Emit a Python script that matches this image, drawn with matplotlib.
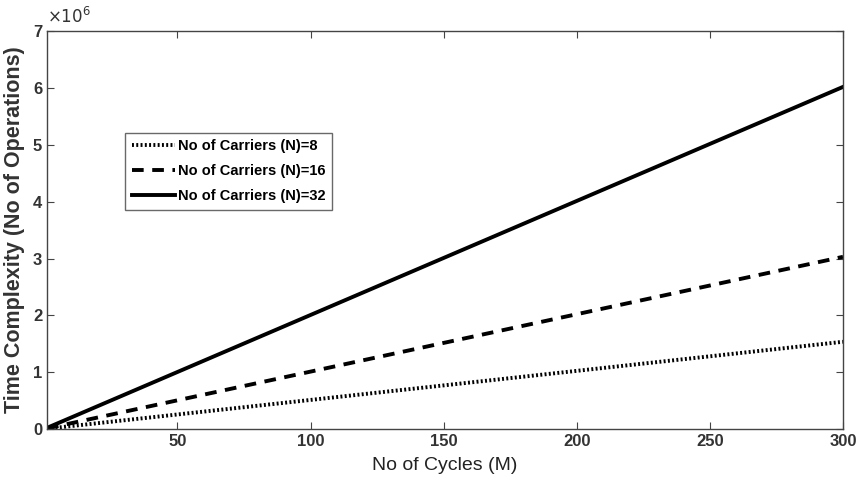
import matplotlib
matplotlib.use("Agg")
import matplotlib.pyplot as plt
from matplotlib import font_manager

names = {f.name for f in font_manager.fontManager.ttflist}
fam = "Liberation Sans Narrow" if "Liberation Sans Narrow" in names else "Liberation Sans"
plt.rcParams['font.family'] = [fam, 'DejaVu Sans']

# data (value at M=1 and M=300)
cycles = [1, 300]
ops_n8 = [5100, 1.535e6]
ops_n16 = [10100, 3.03e6]
ops_n32 = [20100, 6.02e6]
labels = ['No of Carriers (N)=8', 'No of Carriers (N)=16', 'No of Carriers (N)=32']

fig = plt.figure(figsize=(8.58, 5.01), dpi=100)
ax = fig.add_axes([0.0548, 0.1437, 0.9277, 0.794])

ax.plot(cycles, ops_n8, color='black', lw=2.8, linestyle=(0, (0.5, 0.6)), label=labels[0])
ax.plot(cycles, ops_n16, color='black', lw=2.8, linestyle=(0, (3, 2.2)), label=labels[1])
ax.plot(cycles, ops_n32, color='black', lw=2.8, linestyle='-', label=labels[2])

ax.set_xlim(1, 300)
ax.set_ylim(0, 7e6)
ax.set_xticks([50, 100, 150, 200, 250, 300])
ax.set_yticks([i * 1e6 for i in range(8)])
ax.set_yticklabels([str(i) for i in range(8)])
ax.tick_params(direction='in', top=True, right=True, labelsize=12, length=5, color='#444444')
for lab in ax.get_xticklabels() + ax.get_yticklabels():
    lab.set_fontweight('bold')
    lab.set_color('#333333')
for s in ax.spines.values():
    s.set_color('#444444')
    s.set_linewidth(1.0)

ax.text(0.0, 1.012, r'$\times10^{6}$', transform=ax.transAxes, fontsize=12, color='#333333', ha='left', va='bottom')

ax.set_xlabel('No of Cycles (M)', fontsize=14, color='#222222', labelpad=6)
ax.set_ylabel('Time Complexity (No of Operations)', fontsize=15.5, fontweight='bold', color='#333333', labelpad=6)

leg = ax.legend(loc='upper left', bbox_to_anchor=(0.098, 0.745), fontsize=10.5, frameon=True,
                fancybox=False, edgecolor='#444444', handlelength=3.0, handletextpad=0.2,
                borderpad=0.45, labelspacing=0.75, borderaxespad=0)
leg.get_frame().set_linewidth(1.0)
for t in leg.get_texts():
    t.set_fontweight('bold')

fig.savefig('out.png', dpi=100)
